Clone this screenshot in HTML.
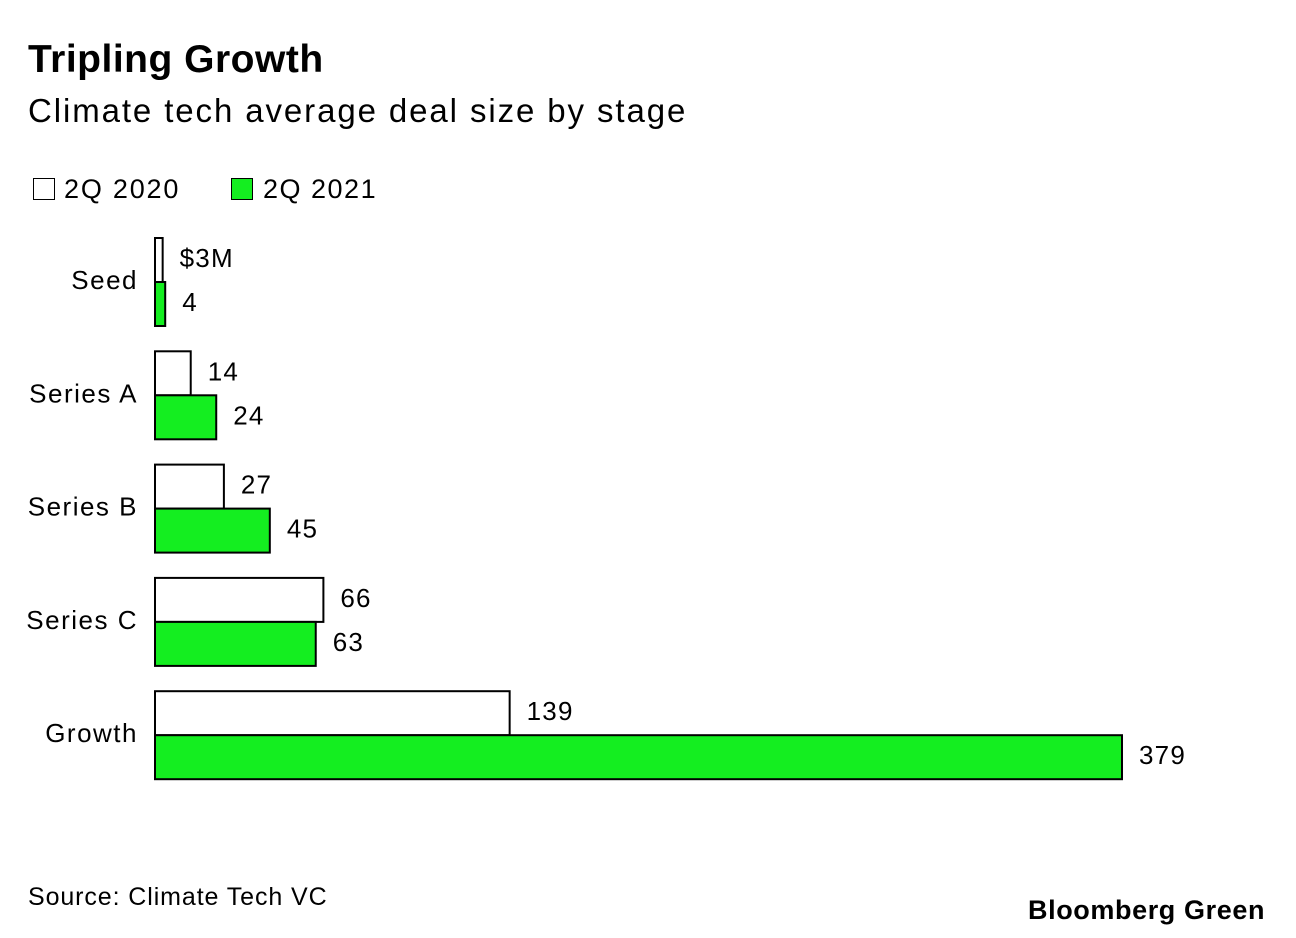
<!DOCTYPE html>
<html><head><meta charset="utf-8">
<style>
body{margin:0;width:1296px;height:938px;background:#fff;font-family:"Liberation Sans",sans-serif;color:#000;overflow:hidden;position:relative}
.t{position:absolute;white-space:nowrap}
</style></head>
<body>
<div class="t" style="left:28px;top:38px;font-size:39px;font-weight:bold;letter-spacing:0.5px">Tripling Growth</div>
<div class="t" style="left:28px;top:92px;font-size:33px;letter-spacing:1.9px">Climate tech average deal size by stage</div>
<div>
<div style="position:absolute;left:33px;top:178px;width:20px;height:20px;border:1.5px solid #000;background:#fff"></div>
<div class="t" style="left:64px;top:174px;font-size:27px;letter-spacing:1.8px">2Q 2020</div>
<div style="position:absolute;left:231px;top:178px;width:20px;height:20px;border:1.5px solid #000;background:#14ee20"></div>
<div class="t" style="left:263px;top:174px;font-size:27px;letter-spacing:1.5px">2Q 2021</div>
</div>
<svg id="chart" width="1296" height="938" style="position:absolute;left:0;top:0"></svg>
<div class="t" style="left:28px;top:883px;font-size:25px;letter-spacing:0.9px">Source: Climate Tech VC</div>
<div class="t" style="left:1028px;top:895px;font-size:27px;font-weight:bold;letter-spacing:0.6px">Bloomberg Green</div>
<script>
const categories=["Seed","Series A","Series B","Series C","Growth"];
const values2020=[3,14,27,66,139];
const values2021=[4,24,45,63,379];
const labels2020=["$3M","14","27","66","139"];
const labels2021=["4","24","45","63","379"];
const svg=document.getElementById('chart');
const NS="http://www.w3.org/2000/svg";
const x0=155,scale=(1122-155)/379;
const xs=v=>x0+v*scale;
const y0=238,step=113.3,bh=44;
function mk(tag,attrs){const e=document.createElementNS(NS,tag);for(const k in attrs)e.setAttribute(k,attrs[k]);svg.appendChild(e);return e;}
categories.forEach((c,i)=>{
  const yt=y0+i*step;
  const lab=mk('text',{x:138,y:yt+bh+7,'text-anchor':'end','font-size':26,'letter-spacing':1.5,'font-family':'Liberation Sans, sans-serif'});
  lab.textContent=c;
  
  
  [[values2020,labels2020,'#fff',0],[values2021,labels2021,'#14ee20',1]].forEach(([vals,lbs,fill,j])=>{
    const y=yt+j*bh;
    const w=Math.max(xs(vals[i])-x0,1);
    const r=mk('rect',{x:x0,y:y,width:w,height:bh,fill:fill,stroke:'#000','stroke-width':2});
    
    
    const t=mk('text',{x:x0+w+17,y:y+bh/2+7,'font-size':26,'letter-spacing':1.2,'font-family':'Liberation Sans, sans-serif'});
    t.textContent=lbs[i];
    
    
  });
});
</script>
</body></html>
